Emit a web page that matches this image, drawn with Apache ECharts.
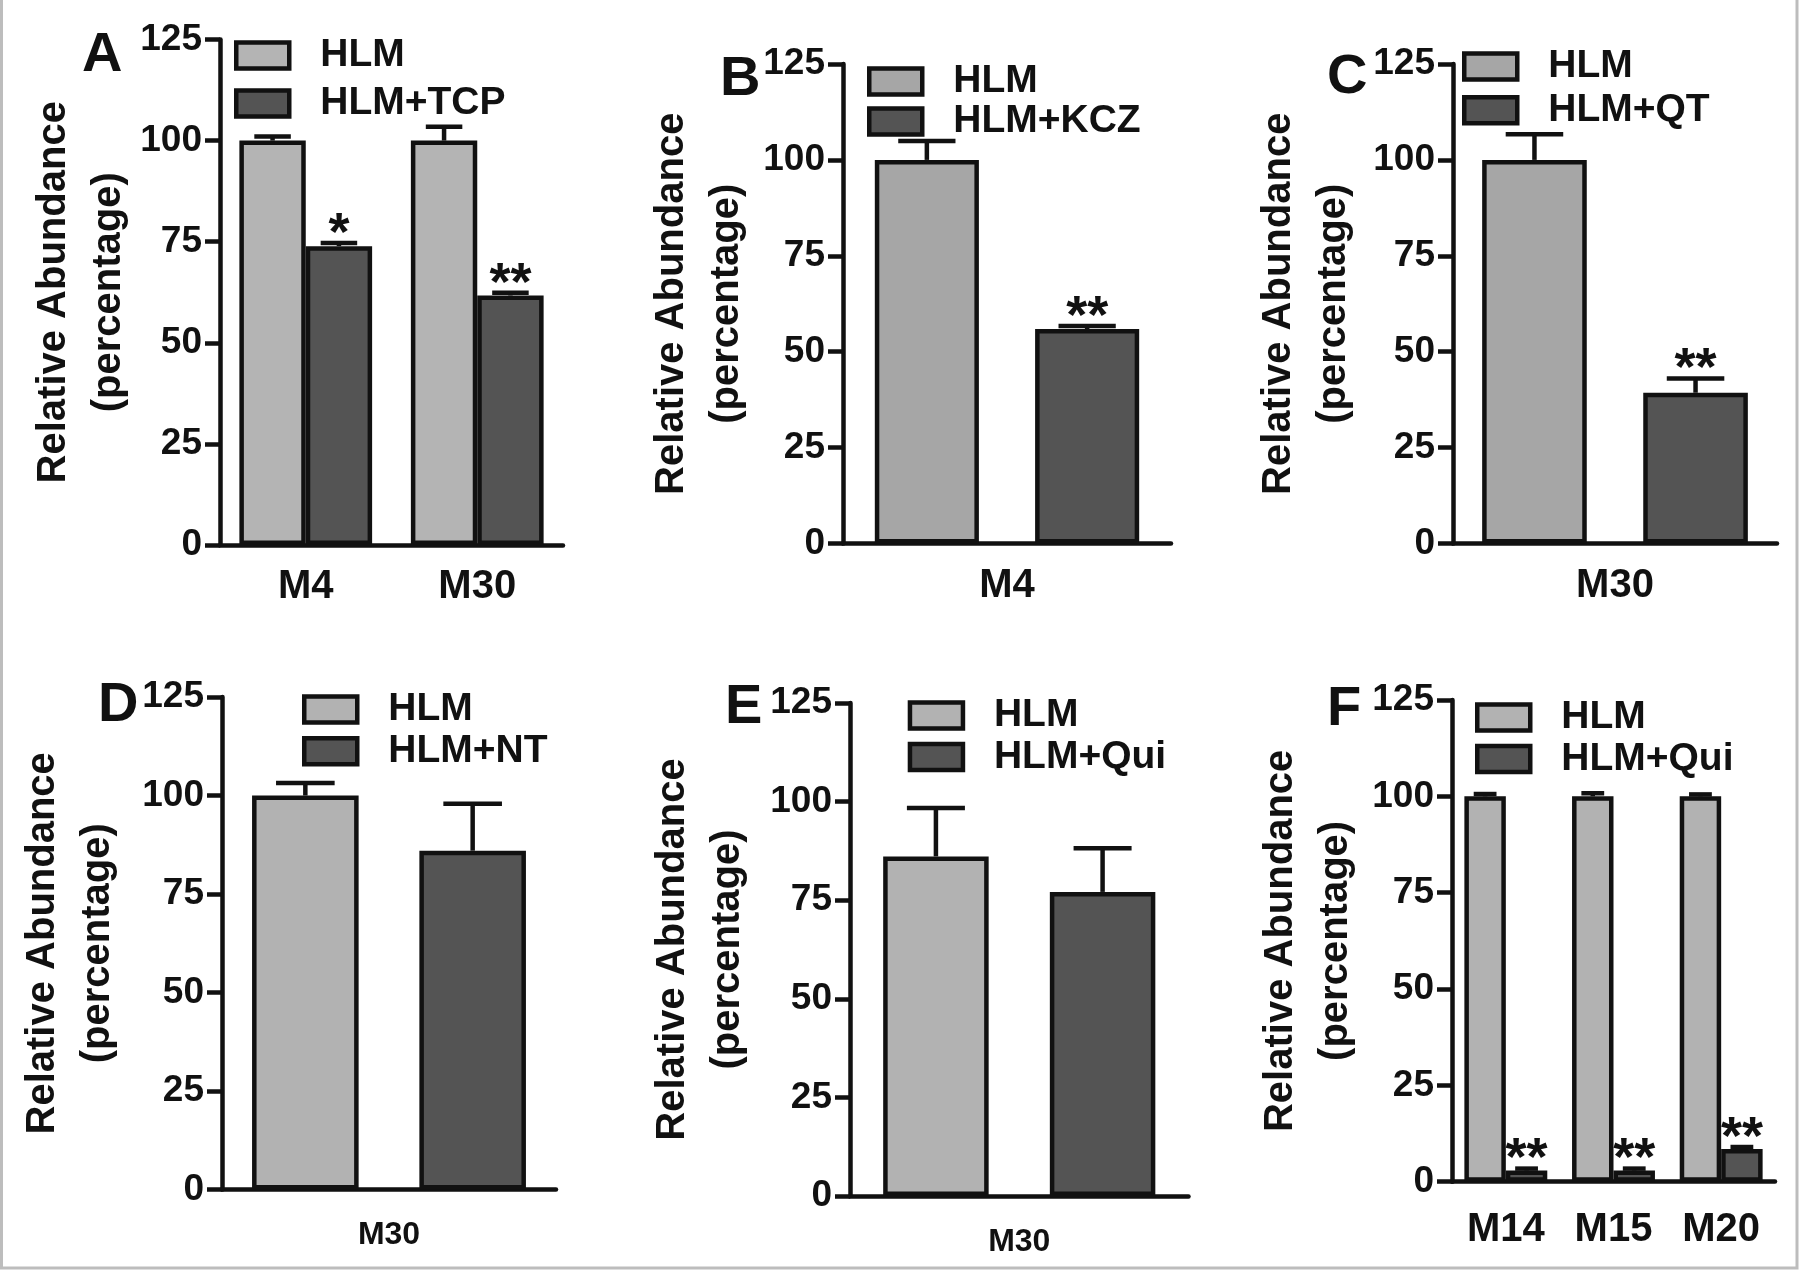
<!DOCTYPE html>
<html><head><meta charset="utf-8">
<script src="https://cdn.jsdelivr.net/npm/echarts@6/dist/echarts.min.js"></script>
<style>html,body{margin:0;padding:0;background:#fff}#c{width:1800px;height:1272px}</style>
</head><body><div id="c"></div>
<script>
// ---------- data ----------
const yAxisTitle = 'Relative Abundance\n(percentage)';

const catsA = ['M4', 'M30'];
const namesA = ['HLM', 'HLM+TCP'];
const hlmA = [100, 100];
const hlmErrA = [1.0, 3.4];
const tcpA = [73.9, 61.7];
const tcpErrA = [0.8, 0.7];
const starsA = ['*', '**'];

const catsB = ['M4'];
const namesB = ['HLM', 'HLM+KCZ'];
const hlmB = [100];
const hlmErrB = [4.9];
const kczB = [55.9];
const kczErrB = [0.8];
const starsB = ['**'];

const catsC = ['M30'];
const namesC = ['HLM', 'HLM+QT'];
const hlmC = [100];
const hlmErrC = [6.7];
const qtC = [39.3];
const qtErrC = [3.7];
const starsC = ['**'];

const catsD = ['M30'];
const namesD = ['HLM', 'HLM+NT'];
const hlmD = [100];
const hlmErrD = [3.2];
const ntD = [86];
const ntErrD = [11.9];
const starsD = [''];

const catsE = ['M30'];
const namesE = ['HLM', 'HLM+Qui'];
const hlmE = [86.1];
const hlmErrE = [12.3];
const quiE = [77.1];
const quiErrE = [11.1];
const starsE = [''];

const catsF = ['M14', 'M15', 'M20'];
const namesF = ['HLM', 'HLM+Qui'];
const hlmF = [100, 100, 100];
const hlmErrF = [0.6, 0.8, 0.5];
const quiF = [2.9, 2.9, 8.5];
const quiErrF = [0.5, 0.5, 0.5];
const starsF = ['**', '**', '**'];

// ---------- layout / style ----------
const INK = '#111';
const DARK = '#545454';
const FONT = '"Liberation Sans", Arial, sans-serif';
const panels = [
  {tag:'A', cats:catsA, names:namesA, v1:hlmA, e1:hlmErrA, v2:tcpA, e2:tcpErrA, stars:starsA,
   grid:{left:220, top:39.5, width:343, height:505.5}, catGap:22.6, barGap:0, c1:'#b4b4b4',
   leg:{left:234, top:36, gap:9}, nameGap:72, catFont:40, catMargin:22, tagPos:[82,28]},
  {tag:'B', cats:catsB, names:namesB, v1:hlmB, e1:hlmErrB, v2:kczB, e2:kczErrB, stars:starsB,
   grid:{left:843, top:64, width:328, height:479.5}, catGap:19.4, barGap:54, c1:'#a6a6a6',
   leg:{left:867, top:62, gap:1}, nameGap:89, catFont:40, catMargin:22, tagPos:[720,52]},
  {tag:'C', cats:catsC, names:namesC, v1:hlmC, e1:hlmErrC, v2:qtC, e2:qtErrC, stars:starsC,
   grid:{left:1453, top:64, width:324, height:479.5}, catGap:18, barGap:54, c1:'#a6a6a6',
   leg:{left:1462, top:47, gap:4.7}, nameGap:92, catFont:40, catMargin:22, tagPos:[1327,50]},
  {tag:'D', cats:catsD, names:namesD, v1:hlmD, e1:hlmErrD, v2:ntD, e2:ntErrD, stars:starsD,
   grid:{left:222, top:697, width:334, height:492.6}, catGap:18, barGap:57, c1:'#b2b2b2',
   leg:{left:302, top:690, gap:2.7}, nameGap:97, catFont:32, catMargin:30, tagPos:[98,678]},
  {tag:'E', cats:catsE, names:namesE, v1:hlmE, e1:hlmErrE, v2:quiE, e2:quiErrE, stars:starsE,
   grid:{left:850, top:703, width:338.5, height:493}, catGap:19.6, barGap:58, c1:'#b2b2b2',
   leg:{left:907.7, top:696, gap:2.5}, nameGap:94.5, catFont:32, catMargin:30, tagPos:[725,680]},
  {tag:'F', cats:catsF, names:namesF, v1:hlmF, e1:hlmErrF, v2:quiF, e2:quiErrF, stars:starsF,
   grid:{left:1452, top:700, width:323, height:481.7}, catGap:23, barGap:0, c1:'#b2b2b2',
   leg:{left:1475, top:698, gap:2.6}, nameGap:89, catFont:40, catMargin:28, tagPos:[1327,682]}
];

const lineStyle = {color: INK, width: 4.5};
const grids = [], xAxes = [], yAxes = [], series = [], legends = [], titles = [];

panels.forEach((p, i) => {
  grids.push(Object.assign({containLabel: false}, p.grid));
  xAxes.push({
    gridIndex: i, type: 'category', data: p.cats,
    axisLine: {lineStyle}, axisTick: {alignWithLabel: true, length: 15, lineStyle},
    axisLabel: {fontFamily: FONT, fontWeight: 'bold', fontSize: p.catFont, color: INK, margin: p.catMargin}
  });
  yAxes.push({
    gridIndex: i, type: 'value', min: 0, max: 125, interval: 25,
    axisLine: {show: true, lineStyle}, axisTick: {show: true, length: 15, lineStyle},
    splitLine: {show: false},
    axisLabel: {fontFamily: FONT, fontWeight: 'bold', fontSize: 37, color: INK, margin: 18},
    name: yAxisTitle, nameLocation: 'middle', nameRotate: 90, nameGap: p.nameGap,
    nameTextStyle: {fontFamily: FONT, fontWeight: 'bold', fontSize: 40, lineHeight: 55, color: INK}
  });
  const barCommon = {type: 'bar', xAxisIndex: i, yAxisIndex: i,
    barGap: p.barGap + '%', barCategoryGap: p.catGap + '%', animation: false, silent: true};
  series.push(Object.assign({}, barCommon, {name: p.names[0], data: p.v1,
    itemStyle: {color: p.c1, borderColor: INK, borderWidth: 4.5}}));
  series.push(Object.assign({}, barCommon, {name: p.names[1], data: p.v2,
    itemStyle: {color: DARK, borderColor: INK, borderWidth: 4.5}}));
  const errData = [];
  p.cats.forEach((c, j) => { errData.push([j, p.v1[j], p.e1[j], 0]); });
  p.cats.forEach((c, j) => { errData.push([j, p.v2[j], p.e2[j], 1]); });
  const nCat = p.cats.length;
  series.push({
    type: 'custom', xAxisIndex: i, yAxisIndex: i, data: errData, z: 5,
    encode: {x: 0, y: 1}, animation: false, silent: true, clip: false,
    renderItem: function (params, api) {
      const ci = api.value(0), v = api.value(1), e = api.value(2), side = api.value(3);
      const band = api.size([1, 0])[0];
      const bw = band * (1 - p.catGap / 100) / (2 + p.barGap / 100);
      const off = (bw + bw * p.barGap / 100) / 2 * (side ? 1 : -1);
      const base = api.coord([ci, v]);
      const top = api.coord([ci, v + e]);
      const x = base[0] + off;
      const cw = bw * 0.55;
      const children = [
        {type: 'line', shape: {x1: x, y1: base[1], x2: x, y2: top[1]}, style: {stroke: INK, lineWidth: 4.5}},
        {type: 'line', shape: {x1: x - cw / 2, y1: top[1], x2: x + cw / 2, y2: top[1]}, style: {stroke: INK, lineWidth: 4.5}}
      ];
      if (side === 1) {
        const star = p.stars[params.dataIndex - nCat];
        if (star) {
          children.push({type: 'text', x: x, y: top[1] - 8,
            style: {text: star, font: 'bold 54px ' + FONT, fill: INK, align: 'center', verticalAlign: 'middle'}});
        }
      }
      return {type: 'group', children};
    }
  });
  legends.push({
    orient: 'vertical', left: p.leg.left, top: p.leg.top, padding: 0, itemGap: p.leg.gap,
    itemWidth: 53, itemHeight: 26, icon: 'rect', selectedMode: false,
    data: [{name: p.names[0], itemStyle: {color: p.c1}}, {name: p.names[1], itemStyle: {color: DARK}}],
    itemStyle: {borderColor: INK, borderWidth: 4.5},
    textStyle: {fontFamily: FONT, fontWeight: 'bold', fontSize: 39, color: INK, lineHeight: 31, padding: [0, 0, 0, 26]}
  });
  titles.push({
    text: p.tag, left: p.tagPos[0], top: p.tagPos[1], padding: 0,
    textStyle: {fontFamily: FONT, fontWeight: 'bold', fontSize: 56, lineHeight: 56, color: INK}
  });
});

const chart = echarts.init(document.getElementById('c'), null, {renderer: 'canvas'});
chart.setOption({
  backgroundColor: '#fff',
  animation: false,
  title: titles,
  grid: grids, xAxis: xAxes, yAxis: yAxes, series, legend: legends,
  graphic: [{type: 'rect', shape: {x: 1.5, y: -10, width: 1795.5, height: 1278},
    style: {fill: null, stroke: '#bdbdbd', lineWidth: 3}, silent: true}]
});
</script></body></html>
